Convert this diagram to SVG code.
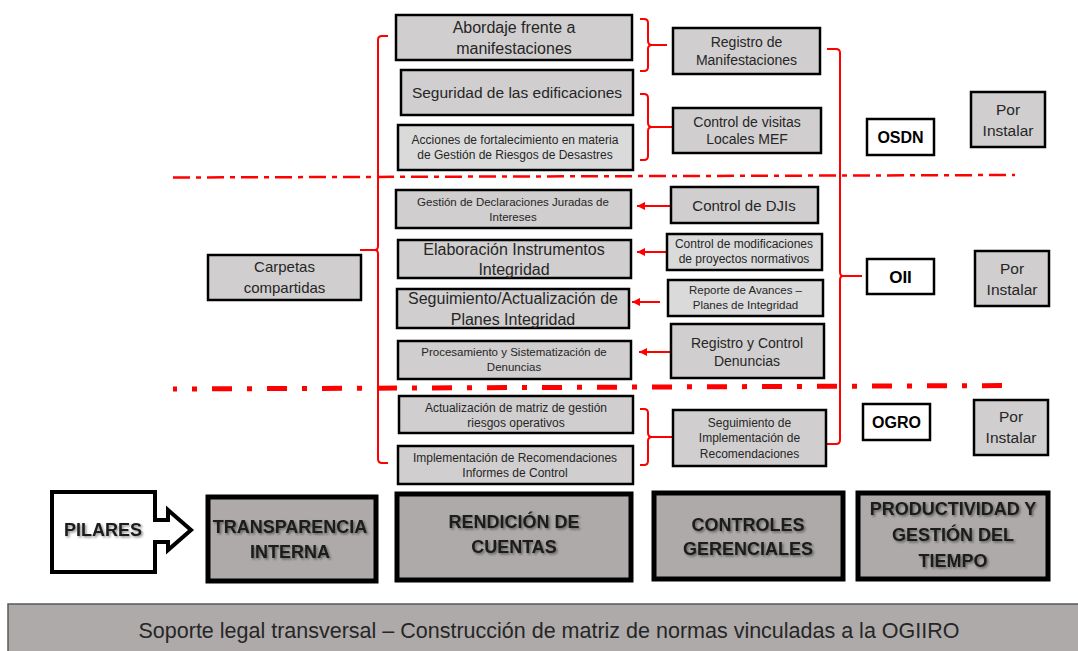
<svg xmlns="http://www.w3.org/2000/svg" width="1078" height="651" viewBox="0 0 1078 651">
<style>
text{font-family:"Liberation Sans",Arial,sans-serif;fill:#262626;text-anchor:middle}
.box{fill:#d0cece;stroke:#000;stroke-width:2.5}
.lbox{fill:#dadada;stroke:#000;stroke-width:2.5}
.wbox{fill:#fff;stroke:#000;stroke-width:2.5}
.pil{fill:#aeaaaa;stroke:#000;stroke-width:5}
.red{fill:none;stroke:#ff0000;stroke-width:2}
.dd1{fill:none;stroke:#ff0000;stroke-width:2.5;stroke-dasharray:17 6 5 6}
.dd2{fill:none;stroke:#ff0000;stroke-width:5;stroke-dasharray:5 15 20 15;stroke-dashoffset:36}
.b{font-weight:bold;fill:#000}
.pt{font-weight:bold;fill:#1a1a1a;font-size:18px;filter:url(#sh)}
</style>
<defs>
<marker id="ah" markerUnits="userSpaceOnUse" markerWidth="9" markerHeight="8" refX="8" refY="4" orient="auto">
<path d="M0,0 L8,4 L0,8 Z" fill="#ff0000"/>
</marker>
<filter id="sh" x="-10%" y="-30%" width="120%" height="160%">
<feDropShadow dx="1.5" dy="1.5" stdDeviation="1" flood-color="#000" flood-opacity="0.45"/>
</filter>
</defs>

<g id="connectors">
<path class="dd1" d="M173,177.5 L1015,175"/>
<path class="dd2" d="M173,389 L1015,385.5"/>
<path class="red" d="M388,36 H382 Q378,36 378,40 V246 Q378,250 375,250 H360 M375,250 Q378,250 378,254 V459 Q378,463 382,463 H388"/>
<path class="red" d="M827,49 H836 Q840,49 840,53 V272 Q840,276 843,276 H862 M843,276 Q840,276 840,280 V440 Q840,444 836,444 H827"/>
<path class="red" d="M640,19 H644 Q648,19 648,23 V41 Q648,45 652,45 H667 M652,45 Q648,45 648,49 V67 Q648,71 644,71 H640"/>
<path class="red" d="M640,94 H644 Q648,94 648,98 V123 Q648,127 652,127 H672 M652,127 Q648,127 648,131 V156 Q648,160 644,160 H640"/>
<path class="red" d="M640,409 H644 Q648,409 648,413 V433 Q648,437 652,437 H672 M652,437 Q648,437 648,441 V461 Q648,465 644,465 H640"/>
<path class="red" d="M670,206 H637" marker-end="url(#ah)"/>
<path class="red" d="M666,252 H637" marker-end="url(#ah)"/>
<path class="red" d="M660,302 H632" marker-end="url(#ah)"/>
<path class="red" d="M670,352 H639" marker-end="url(#ah)"/>
</g>

<g id="abordaje"><rect class="box" x="396" y="15" width="236" height="45"/>
<text x="514" y="32.8" font-size="16">Abordaje frente a</text><text x="514" y="53.8" font-size="16">manifestaciones</text></g>
<g id="seguridad"><rect class="box" x="401" y="70" width="232" height="45"/>
<text x="517" y="97.5" font-size="15.5">Seguridad de las edificaciones</text></g>
<g id="acciones"><rect class="lbox" x="398" y="125" width="235" height="45"/>
<text x="515" y="144" font-size="12">Acciones de fortalecimiento en materia</text><text x="515" y="159" font-size="12">de Gestión de Riesgos de Desastres</text></g>
<g id="registro-manif"><rect class="box" x="673" y="28" width="147" height="46"/>
<text x="746.5" y="47" font-size="14">Registro de</text><text x="746.5" y="65" font-size="14">Manifestaciones</text></g>
<g id="control-visitas"><rect class="box" x="673" y="108" width="148" height="45"/>
<text x="747" y="127" font-size="14">Control de visitas</text><text x="747" y="144" font-size="14">Locales MEF</text></g>
<g id="osdn"><rect class="wbox" x="867" y="119" width="67" height="36"/>
<text class="b" x="900.5" y="142.8" font-size="16">OSDN</text></g>
<g id="por-instalar-1"><rect class="box" x="971" y="92" width="74" height="55"/>
<text x="1008" y="114.5" font-size="15.5">Por</text><text x="1008" y="135.5" font-size="15.5">Instalar</text></g>

<g id="gestion-dji"><rect class="box" x="396" y="190" width="235" height="38"/>
<text x="513" y="206" font-size="11.5">Gestión de Declaraciones Juradas de</text><text x="513" y="221" font-size="11.5">Intereses</text></g>
<g id="elaboracion"><rect class="box" x="398" y="240" width="233" height="38"/>
<text x="514" y="254.8" font-size="16">Elaboración Instrumentos</text><text x="514" y="274.8" font-size="16">Integridad</text></g>
<g id="seguimiento-planes"><rect class="box" x="397" y="289" width="232" height="39"/>
<text x="513" y="303.8" font-size="16">Seguimiento/Actualización de</text><text x="513" y="324.8" font-size="16">Planes Integridad</text></g>
<g id="procesamiento"><rect class="box" x="398" y="341" width="233" height="38"/>
<text x="514" y="356" font-size="11.5">Procesamiento y Sistematización de</text><text x="514" y="371" font-size="11.5">Denuncias</text></g>
<g id="control-djis"><rect class="box" x="671" y="187" width="147" height="36"/>
<text x="744" y="210.5" font-size="15">Control de DJIs</text></g>
<g id="control-modif"><rect class="lbox" x="667" y="234" width="155" height="36"/>
<text x="744" y="248" font-size="12">Control de modificaciones</text><text x="744" y="263" font-size="12">de proyectos normativos</text></g>
<g id="reporte"><rect class="lbox" x="668" y="280" width="155" height="36"/>
<text x="745.5" y="294" font-size="11.5">Reporte de Avances –</text><text x="745.5" y="309" font-size="11.5">Planes de Integridad</text></g>
<g id="registro-denuncias"><rect class="box" x="671" y="324" width="153" height="54"/>
<text x="747" y="348" font-size="14">Registro y Control</text><text x="747" y="366" font-size="14">Denuncias</text></g>
<g id="oii"><rect class="wbox" x="867" y="259" width="67" height="35"/>
<text class="b" x="900.5" y="282.8" font-size="17">OII</text></g>
<g id="por-instalar-2"><rect class="box" x="975" y="251" width="74" height="55"/>
<text x="1012" y="273.5" font-size="15.5">Por</text><text x="1012" y="294.5" font-size="15.5">Instalar</text></g>

<g id="actualizacion"><rect class="box" x="399" y="396" width="234" height="37"/>
<text x="516" y="412" font-size="12">Actualización de matriz de  gestión</text><text x="516" y="427" font-size="12">riesgos operativos</text></g>
<g id="implementacion"><rect class="box" x="398" y="446" width="235" height="38"/>
<text x="515" y="462" font-size="12">Implementación de Recomendaciones</text><text x="515" y="477" font-size="12">Informes de Control</text></g>
<g id="seguimiento-impl"><rect class="box" x="673" y="410" width="153" height="56"/>
<text x="749.5" y="427.3" font-size="12">Seguimiento de</text><text x="749.5" y="442.3" font-size="12">Implementación de</text><text x="749.5" y="458.3" font-size="12">Recomendaciones</text></g>
<g id="ogro"><rect class="wbox" x="863" y="404" width="67" height="36"/>
<text class="b" x="896.5" y="427.5" font-size="16">OGRO</text></g>
<g id="por-instalar-3"><rect class="box" x="974" y="400" width="74" height="55"/>
<text x="1011" y="422" font-size="15.5">Por</text><text x="1011" y="443" font-size="15.5">Instalar</text></g>

<g id="carpetas"><rect class="box" x="208" y="255" width="153" height="45"/>
<text x="284.5" y="272.3" font-size="15">Carpetas</text><text x="284.5" y="293.3" font-size="15">compartidas</text></g>

<g id="pilares"><path d="M52,492 H155 V520 H168 V510 L191,530 L168,550 V542 H155 V572 H52 Z" fill="#fff" stroke="#000" stroke-width="4"/>
<text class="pt" x="103" y="536" font-size="17">PILARES</text></g>
<g id="transparencia"><rect class="pil" x="208" y="497" width="168" height="84"/>
<text class="pt" x="290" y="533">TRANSPARENCIA</text><text class="pt" x="290" y="558.4">INTERNA</text></g>
<g id="rendicion"><rect class="pil" x="397" y="494" width="234" height="86"/>
<text class="pt" x="514" y="528.4">RENDICIÓN DE</text><text class="pt" x="514" y="553.4">CUENTAS</text></g>
<g id="controles"><rect class="pil" x="654" y="493" width="189" height="86"/>
<text class="pt" x="748" y="530.9" font-size="17.5">CONTROLES</text><text class="pt" x="748" y="555" font-size="17.5">GERENCIALES</text></g>
<g id="productividad"><rect class="pil" x="858" y="493" width="190" height="86"/>
<text class="pt" x="953" y="515.4">PRODUCTIVIDAD Y</text><text class="pt" x="953" y="541.4">GESTIÓN DEL</text><text class="pt" x="953" y="567.4">TIEMPO</text></g>

<g id="soporte"><rect x="8" y="604" width="1085" height="60" fill="#aeaaaa" stroke="#595959" stroke-width="1.5"/>
<text x="549" y="637.5" font-size="21.5" fill="#1a1a1a">Soporte legal transversal – Construcción de matriz de normas vinculadas a la OGIIRO</text></g>
</svg>
